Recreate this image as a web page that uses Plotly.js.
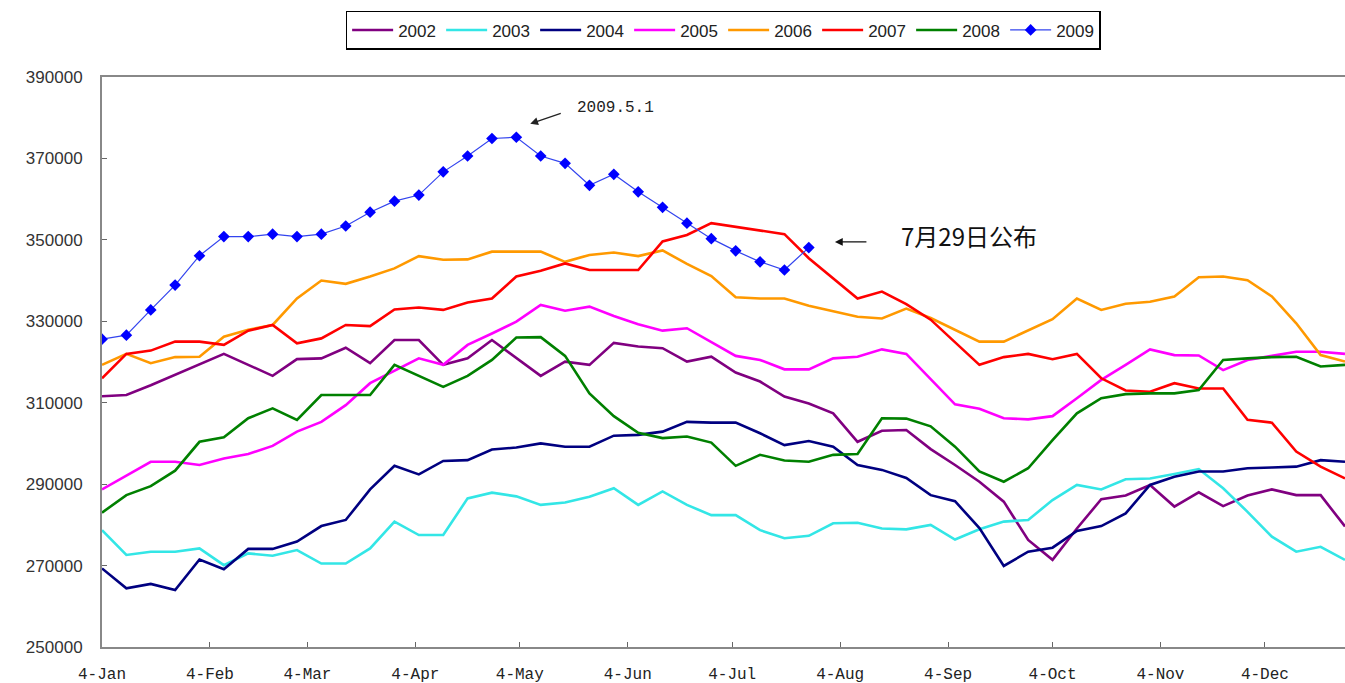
<!DOCTYPE html>
<html>
<head>
<meta charset="utf-8">
<script src="https://cdn.plot.ly/plotly-3.0.1.min.js"></script>
<style>html,body{margin:0;padding:0;background:#fff;}#chart{width:1345px;height:683px;}</style>
</head>
<body>
<div id="chart"></div>
<script>
// Days offset from 4-Jan for each month tick
var tickDays = [0, 31, 59, 90, 120, 151, 181, 212, 243, 273, 304, 334];
var tickLabels = ['4-Jan','4-Feb','4-Mar','4-Apr','4-May','4-Jun','4-Jul','4-Aug','4-Sep','4-Oct','4-Nov','4-Dec'];
var yearNames = ['2002','2003','2004','2005','2006','2007','2008','2009'];

var y2002 = [311600,311900,314300,316800,319300,322000,319300,316600,320700,320900,323500,319700,325400,325400,319300,320900,325400,320900,316600,
             320100,319300,324700,323800,323400,320100,321300,317400,315200,311500,309800,307400,300400,303100,
             303300,298600,294700,290600,285700,276300,271400,279100,286300,287200,289800,284500,288000,284600,287200,288700,287300,287300,279600];
var y2003 = [278700,272600,273400,273400,274200,270100,273000,272400,273800,270500,270500,274200,280800,277500,277500,286500,287900,287000,284900,
             285500,286900,289000,284900,288200,284900,282400,282400,278700,276700,277300,280400,280500,279100,
             278900,280000,276400,278900,280800,281200,286100,289800,288700,291200,291400,292500,293700,289000,283200,277100,273400,274600,271400];
var y2004 = [269300,264400,265500,264000,271500,269100,274100,274100,275900,279700,281200,288700,294500,292400,295700,295900,298500,299000,300000,
             299200,299200,301900,302100,302900,305300,305100,305100,302500,299600,300600,299200,294700,293500,
             291500,287300,285800,279200,269900,273400,274400,278500,279700,282800,289800,291800,293100,293100,293900,294100,294300,295900,295500];
var y2005 = [288700,292200,295500,295500,294700,296300,297400,299400,302900,305300,309400,314800,317900,320900,319300,324200,327000,329900,334000,
             332600,333600,331300,329300,327700,328300,324800,321500,320500,318200,318200,320900,321300,323100,
             322000,315800,309600,308500,306200,305900,306700,311100,315600,319300,323100,321700,321600,318000,320500,321500,322500,322500,322000];
var y2006 = [319300,322000,319700,321200,321300,326200,327900,329100,335600,340000,339200,341000,343000,346000,345100,345200,347100,347100,347100,
             344600,346300,346900,346000,347400,344100,341100,335900,335600,335600,333800,332400,331100,330700,
             333100,330800,328000,325000,325000,327700,330500,335600,332800,334300,334800,336100,340800,341000,340100,336100,329500,321700,320100];
var y2007 = [316000,322000,322800,325000,325000,324200,327700,329100,324600,325800,329100,328800,332900,333400,332800,334600,335600,341000,342400,
             344200,342600,342600,342600,349600,351200,354100,353200,352400,351400,345500,340600,335600,337300,
             334200,330400,324800,319300,321200,322000,320700,322000,316000,313000,312700,314800,313500,313500,305800,305100,298000,294300,291400];
var y2008 = [283000,287300,289500,293300,300400,301500,306200,308600,305800,311900,311900,311900,319300,316600,313900,316600,320500,326000,326100,
             321500,312300,306700,302600,301300,301700,300200,294500,297200,295800,295500,297200,297400,306200,
             306100,304200,299200,293100,290600,293900,300800,307400,311100,312100,312300,312300,313100,320500,320900,321200,321300,318900,319300];
var y2009 = [325600,326600,332800,338900,346100,350800,350800,351400,350800,351400,353400,356800,359500,361000,366700,370600,374900,375200,
             370600,368800,363400,366100,361800,358000,354100,350300,347300,344600,342600,348100];

var seriesValues = [y2002, y2003, y2004, y2005, y2006, y2007, y2008, y2009];
var seriesColors = ['#800080', '#33E6E6', '#000080', '#FF00FF', '#FF9900', '#FF0000', '#008000', '#0000FF'];

var traces = seriesValues.map(function (vals, k) {
  var xs = vals.map(function (_, i) { return i * 7; });
  var t = {
    x: xs, y: vals, name: yearNames[k], type: 'scatter',
    mode: 'lines',
    line: {color: seriesColors[k], width: 2.6}
  };
  if (yearNames[k] === '2009') {
    t.mode = 'lines+markers';
    t.line = {color: '#3344EE', width: 1.2};
    t.marker = {symbol: 'diamond', size: 9, color: '#0000FF'};
  }
  return t;
});

var layout = {
  width: 1345, height: 683,
  margin: {l: 102, r: 0, t: 77, b: 36, pad: 0},
  paper_bgcolor: '#ffffff', plot_bgcolor: '#ffffff',
  showlegend: true,
  legend: {
    orientation: 'h', x: 0.196, xanchor: 'left', y: 1.116, yanchor: 'top',
    bordercolor: '#000000', borderwidth: 1.5, bgcolor: '#ffffff',
    font: {family: 'Liberation Sans, Arial, sans-serif', size: 17, color: '#222'},
    itemwidth: 41, entrywidth: 38, tracegroupgap: 0
  },
  xaxis: {
    range: [0, 357], tickmode: 'array', tickvals: tickDays, ticktext: tickLabels,
    ticks: 'inside', ticklen: 5, tickcolor: '#666', tickwidth: 1,
    showgrid: false, zeroline: false, showline: true, linecolor: '#888', linewidth: 2, mirror: true,
    tickfont: {family: 'Liberation Mono, monospace', size: 16, color: '#222'},
    ticklabelstandoff: 11
  },
  yaxis: {
    range: [250000, 390000], tickmode: 'array',
    tickvals: [250000,270000,290000,310000,330000,350000,370000,390000],
    ticktext: ['250000','270000','290000','310000','330000','350000','370000','390000'],
    ticks: 'inside', ticklen: 5, tickcolor: '#666', tickwidth: 1,
    showgrid: false, zeroline: false, showline: true, linecolor: '#888', linewidth: 2, mirror: true,
    tickfont: {family: 'Liberation Sans, Arial, sans-serif', size: 17, color: '#333'},
    ticklabelstandoff: 14
  },
  annotations: [
    {x: 123, y: 378500, xref: 'x', yref: 'y', text: '', showarrow: true, arrowhead: 2, arrowsize: 1.2, arrowwidth: 1.3, arrowcolor: '#222', ax: 32, ay: -11},
    {x: 147.5, y: 382400, xref: 'x', yref: 'y', text: '2009.5.1', showarrow: false,
     font: {family: 'Liberation Mono, monospace', size: 16, color: '#222'}},
    {x: 210.5, y: 349500, xref: 'x', yref: 'y', text: '', showarrow: true, arrowhead: 2, arrowsize: 1.2, arrowwidth: 1.3, arrowcolor: '#111', ax: 33, ay: 0},
    {x: 249, y: 351000, xref: 'x', yref: 'y', text: '7月29日公布', showarrow: false,
     font: {family: 'Noto Sans CJK SC, sans-serif', size: 24, color: '#111'}}
  ]
};

Plotly.newPlot('chart', traces, layout, {staticPlot: true, displayModeBar: false});
</script>
</body>
</html>
